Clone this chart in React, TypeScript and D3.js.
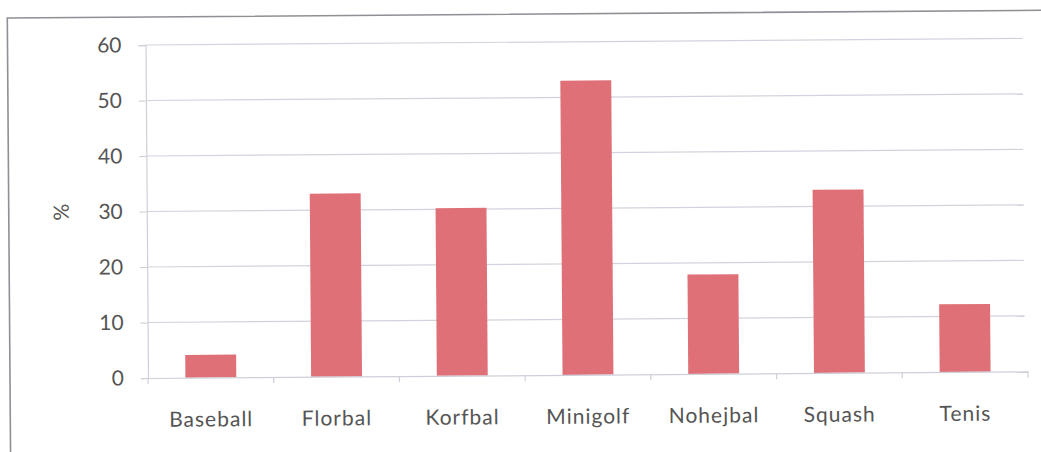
import React, { useEffect, useRef } from "react";
import * as d3 from "d3";

const sports = ["Baseball", "Florbal", "Korfbal", "Minigolf", "Nohejbal", "Squash", "Tenis"];
const percent = [4.1, 33, 30.2, 53, 17.9, 33, 12.2];
const yTicks = [0, 10, 20, 30, 40, 50, 60];

export default function App() {
  const ref = useRef<SVGSVGElement | null>(null);

  useEffect(() => {
    const svg = d3.select(ref.current);
    svg.selectAll("*").remove();

    const width = 1041, height = 452;
    const left = 148, right = 1028, top = 45, bottom = 378;
    const font = "Lato, 'Open Sans', sans-serif";
    const textColor = "#555";

    svg.append("rect").attr("width", width).attr("height", height).attr("fill", "#fff");

    // outer chart frame (scanned, slightly tilted)
    const frame = svg.append("g").attr("transform", "rotate(-0.43, 148, 378)");
    frame.append("path")
      .attr("d", `M10,${height + 10} L10,17 L${width + 10},17`)
      .attr("fill", "none")
      .attr("stroke", "#8f8f96")
      .attr("stroke-width", 1.6);

    const x = d3.scaleBand<string>().domain(sports).range([left, right]).padding(0);
    const y = d3.scaleLinear().domain([0, 60]).range([bottom, top]);

    const g = frame.append("g");

    // gridlines
    g.append("g").selectAll("line").data(yTicks.filter(t => t > 0)).enter().append("line")
      .attr("x1", left).attr("x2", right - 3)
      .attr("y1", d => y(d)).attr("y2", d => y(d))
      .attr("stroke", "#d3d3de").attr("stroke-width", 1.2);

    // y axis
    const yAxis = g.append("g").attr("transform", `translate(${left},0)`)
      .call(d3.axisLeft(y).tickValues(yTicks).tickSize(7).tickPadding(17));
    yAxis.select(".domain").attr("stroke", "#cfcfda").attr("stroke-width", 1.2);
    yAxis.selectAll(".tick line").attr("stroke", "#cfcfda").attr("stroke-width", 1.2);
    yAxis.selectAll(".tick text")
      .attr("fill", textColor)
      .style("font-family", font)
      .style("font-size", "21px");

    // bars
    const barW = x.bandwidth() * 0.405;
    g.append("g").selectAll("rect").data(sports).enter().append("rect")
      .attr("x", d => (x(d) as number) + x.bandwidth() / 2 - barW / 2)
      .attr("y", (d, i) => y(percent[i]))
      .attr("width", barW)
      .attr("height", (d, i) => y(0) - y(percent[i]))
      .attr("fill", "#e07078");

    // x axis
    const xAxis = g.append("g").attr("transform", `translate(0,${bottom})`)
      .call(d3.axisBottom(x).tickSize(0).tickPadding(34));
    xAxis.select(".domain").attr("stroke", "#cfcfda").attr("stroke-width", 1.2);
    xAxis.selectAll(".tick text")
      .attr("fill", textColor)
      .style("font-family", font)
      .style("font-size", "21px")
      .style("letter-spacing", "1px");
    // category separators
    g.append("g").selectAll("line").data(sports.concat(["end"])).enter().append("line")
      .attr("x1", (d, i) => left + i * x.step()).attr("x2", (d, i) => left + i * x.step())
      .attr("y1", bottom).attr("y2", bottom + 6)
      .attr("stroke", "#cfcfda").attr("stroke-width", 1.2);

    // y label
    g.append("text")
      .attr("transform", `translate(70,${y(30)}) rotate(-90)`)
      .attr("text-anchor", "middle")
      .attr("fill", textColor)
      .style("font-family", font)
      .style("font-size", "21px")
      .text("%");
  }, []);

  return (
    <svg ref={ref} width={1041} height={452}
      style={{ position: "absolute", left: 0, top: 0, display: "block" }} />
  );
}
